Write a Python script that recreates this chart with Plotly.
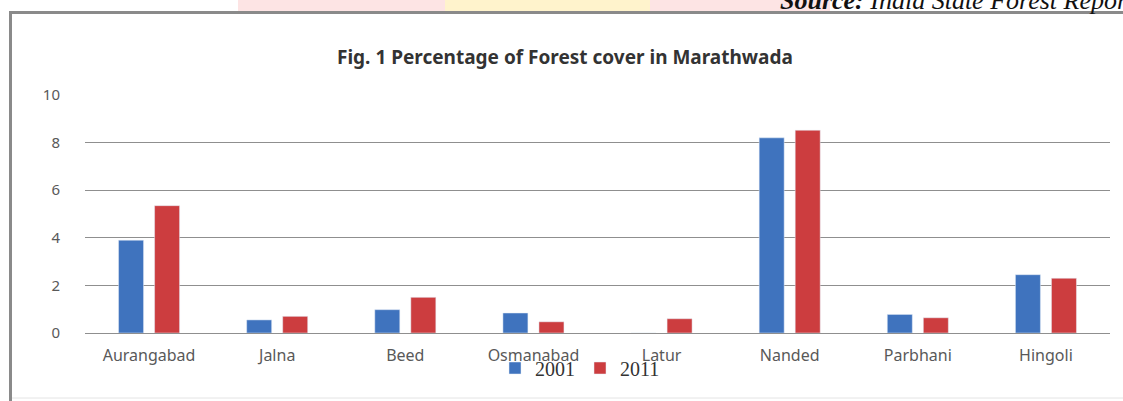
import plotly.graph_objects as go

districts = ["Aurangabad", "Jalna", "Beed", "Osmanabad", "Latur", "Nanded", "Parbhani", "Hingoli"]
cover_2001 = [3.9, 0.55, 0.98, 0.84, 0, 8.2, 0.78, 2.45]
cover_2011 = [5.35, 0.7, 1.5, 0.47, 0.6, 8.52, 0.64, 2.3]
y_ticks = [0, 2, 4, 6, 8, 10]

W, H = 1123, 401
L, R, T, B = 85, 1110, 95, 333

def px(x):
    return (x - L) / (R - L)

def py(y):
    return (B - y) / (B - T)

fig = go.Figure()
fig.add_trace(go.Bar(name="2001", x=districts, y=cover_2001, marker_color="#3F73BE"))
fig.add_trace(go.Bar(name="2011", x=districts, y=cover_2011, marker_color="#CC3D3F"))

shapes = [
    # faint watermark at top
    dict(type="rect", xref="paper", yref="paper", x0=px(238), x1=px(830), y0=py(11), y1=py(0),
         fillcolor="#fde4e4", line_width=0, layer="below"),
    dict(type="rect", xref="paper", yref="paper", x0=px(445), x1=px(650), y0=py(11), y1=py(0),
         fillcolor="#fff3cc", line_width=0, layer="below"),
    # frame
    dict(type="line", xref="paper", yref="paper", x0=px(9), x1=px(W), y0=py(12.5), y1=py(12.5),
         line=dict(color="#8a8a8a", width=3)),
    dict(type="line", xref="paper", yref="paper", x0=px(10.5), x1=px(10.5), y0=py(11), y1=py(H),
         line=dict(color="#8a8a8a", width=3)),
    dict(type="line", xref="paper", yref="paper", x0=px(12), x1=px(W), y0=py(398), y1=py(398),
         line=dict(color="#e4e4e4", width=1)),
]

annotations = [
    dict(text="<b>Fig. 1 Percentage of Forest cover in Marathwada</b>", xref="paper", yref="paper",
         x=px(565), y=py(57), xanchor="center", yanchor="middle", showarrow=False,
         font=dict(family="Noto Sans", size=19, color="#333333")),
    dict(text="<b><i>Source:</i></b><i> India State Forest Report</i>", xref="paper", yref="paper",
         x=px(778), y=py(17), xanchor="left", yanchor="bottom", showarrow=False,
         font=dict(family="Liberation Serif", size=26, color="#111111")),
]

fig.update_layout(
    width=W, height=H,
    margin=dict(l=L, r=W - R, t=T, b=H - B),
    paper_bgcolor="white", plot_bgcolor="white",
    barmode="group", bargap=0.4375, bargroupgap=0.306,
    showlegend=True,
    legend=dict(orientation="h", x=px(495), y=py(368), xanchor="left", yanchor="middle",
                font=dict(family="Liberation Serif", size=20, color="#333333"),
                bgcolor="rgba(0,0,0,0)", itemwidth=30, tracegroupgap=0),
    shapes=shapes, annotations=annotations,
    xaxis=dict(showgrid=False, showline=False, zeroline=False, ticks="",
               tickfont=dict(family="Noto Sans", size=16, color="#595959"),
               ticklabelstandoff=11),
    yaxis=dict(range=[0, 10], tickvals=y_ticks, ticktext=[str(v) for v in y_ticks],
               showgrid=True, gridcolor="#8f8f8f", gridwidth=1.3,
               zeroline=True, zerolinecolor="#8f8f8f", zerolinewidth=1.3,
               showline=False, ticks="",
               tickfont=dict(family="Noto Sans", size=15, color="#595959"),
               ticklabelstandoff=24),
)

fig.write_html("out.html")
